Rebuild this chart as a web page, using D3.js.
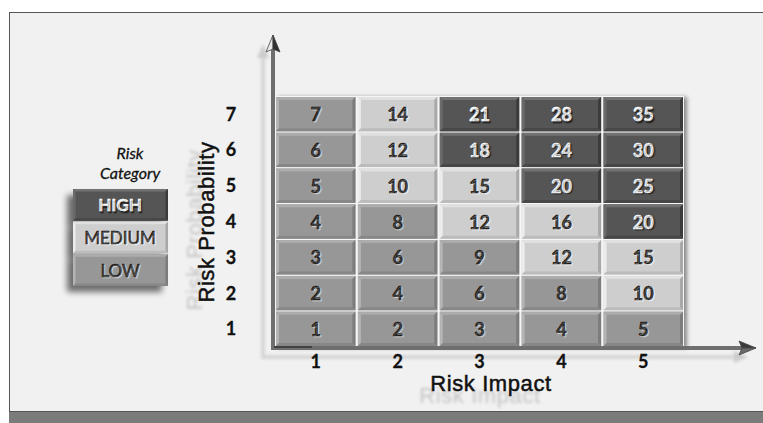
<!DOCTYPE html>
<html>
<head>
<meta charset="utf-8">
<script src="https://cdn.jsdelivr.net/npm/d3@7"></script>
<style>
  html, body { margin: 0; padding: 0; background: #ffffff; }
  svg { display: block; }
</style>
</head>
<body>
<svg id="chart" width="763" height="423"></svg>
<script>
// Axis categories
const impactTicks = ["1", "2", "3", "4", "5"];
const probabilityTicks = ["1", "2", "3", "4", "5", "6", "7"];

// Risk score per probability row (bottom row first), one value per impact column
const scoreRows = [
  [1, 2, 3, 4, 5],
  [2, 4, 6, 8, 10],
  [3, 6, 9, 12, 15],
  [4, 8, 12, 16, 20],
  [5, 10, 15, 20, 25],
  [6, 12, 18, 24, 30],
  [7, 14, 21, 28, 35]
];

// Risk category of each cell, same layout as scoreRows
const categoryRows = [
  ["LOW", "LOW", "LOW", "LOW", "LOW"],
  ["LOW", "LOW", "LOW", "LOW", "MEDIUM"],
  ["LOW", "LOW", "LOW", "MEDIUM", "MEDIUM"],
  ["LOW", "LOW", "MEDIUM", "MEDIUM", "HIGH"],
  ["LOW", "MEDIUM", "MEDIUM", "HIGH", "HIGH"],
  ["LOW", "MEDIUM", "HIGH", "HIGH", "HIGH"],
  ["LOW", "MEDIUM", "HIGH", "HIGH", "HIGH"]
];

const legendItems = ["HIGH", "MEDIUM", "LOW"];
const legendTitle = ["Risk", "Category"];
const xTitle = "Risk Impact";
const yTitle = "Risk Probability";

// Bevel palettes per category
const palette = {
  LOW:    { face: "#979797", top: "#acacac", left: "#b4b4b4", right: "#7b7b7b", bottom: "#878787", text: "#111", glow: "1.2px 1.2px 1px #d6d6d6" },
  MEDIUM: { face: "#cecece", top: "#e0e0e0", left: "#ececec", right: "#a8a8a8", bottom: "#bcbcbc", text: "#111", glow: "1.2px 1.2px 1px #f2f2f2" },
  HIGH:   { face: "#545454", top: "#727272", left: "#6a6a6a", right: "#3b3b3b", bottom: "#474747", text: "#ffffff", glow: "1.4px 1.4px 1px #222222" }
};

const svg = d3.select("#chart");
const defs = svg.append("defs");

function blurFilter(id, sd) {
  defs.append("filter").attr("id", id)
    .attr("x", "-20%").attr("y", "-20%").attr("width", "140%").attr("height", "140%")
    .append("feGaussianBlur").attr("stdDeviation", sd);
}
blurFilter("soft", 1.6);
blurFilter("softText", 1.4);

function dropShadow(id, dx, dy, sd, opacity) {
  const f = defs.append("filter").attr("id", id)
    .attr("x", "-20%").attr("y", "-20%").attr("width", "140%").attr("height", "140%");
  f.append("feGaussianBlur").attr("in", "SourceAlpha").attr("stdDeviation", sd).attr("result", "b");
  f.append("feOffset").attr("in", "b").attr("dx", dx).attr("dy", dy).attr("result", "o");
  f.append("feComponentTransfer").attr("in", "o").attr("result", "s")
    .append("feFuncA").attr("type", "linear").attr("slope", opacity);
  const m = f.append("feMerge");
  m.append("feMergeNode").attr("in", "s");
  m.append("feMergeNode").attr("in", "SourceGraphic");
}
dropShadow("gridShadow", 3, 1, 2.2, 0.45);
dropShadow("legendShadow", -6, 6, 3, 0.55);

// Page frame
svg.append("rect").attr("x", 0).attr("y", 0).attr("width", 763).attr("height", 423).attr("fill", "#ffffff");
svg.append("rect").attr("x", 9.5).attr("y", 12.5).attr("width", 800).attr("height", 399)
  .attr("fill", "#f1f1f1").attr("stroke", "#555").attr("stroke-width", 1);
svg.append("rect").attr("x", 9).attr("y", 412).attr("width", 760).attr("height", 12).attr("fill", "#7b7b7b");

// Scales
const x = d3.scaleBand().domain(impactTicks).range([276, 683]).paddingInner(0.03);
const y = d3.scaleBand().domain(probabilityTicks.slice().reverse()).range([97, 346]).paddingInner(0.04);

// Reflections of the axes
const refl = svg.append("g").attr("filter", "url(#soft)").attr("opacity", 0.9);
refl.append("path")
  .attr("d", `M263,52 L263,357 L742,357`)
  .attr("fill", "none").attr("stroke", "#d2d2d2").attr("stroke-width", 4);
refl.append("path").attr("d", "M263,44 l-6,14 l12,0 z").attr("fill", "#c8c8c8");
refl.append("path").attr("d", "M748,357 l-14,-6 l0,12 z").attr("fill", "#c8c8c8");

// Grid of cells
const cells = [];
probabilityTicks.forEach((p, ri) => {
  impactTicks.forEach((imp, ci) => {
    cells.push({ p, imp, score: scoreRows[ri][ci], cat: categoryRows[ri][ci] });
  });
});

function bevelBox(g, x0, y0, w, h, pal, b) {
  g.append("rect").attr("x", x0).attr("y", y0).attr("width", w).attr("height", h).attr("fill", pal.face);
  const x1 = x0 + w, y1 = y0 + h;
  g.append("path").attr("d", `M${x0},${y0}L${x1},${y0}L${x1 - b},${y0 + b}L${x0 + b},${y0 + b}Z`).attr("fill", pal.top);
  g.append("path").attr("d", `M${x0},${y0}L${x0 + b},${y0 + b}L${x0 + b},${y1 - b}L${x0},${y1}Z`).attr("fill", pal.left);
  g.append("path").attr("d", `M${x1},${y0}L${x1},${y1}L${x1 - b},${y1 - b}L${x1 - b},${y0 + b}Z`).attr("fill", pal.right);
  g.append("path").attr("d", `M${x0},${y1}L${x1},${y1}L${x1 - b},${y1 - b}L${x0 + b},${y1 - b}Z`).attr("fill", pal.bottom);
}

const gridG = svg.append("g").attr("filter", "url(#gridShadow)");
gridG.append("rect")
  .attr("x", x.range()[0] - 1).attr("y", y.range()[0] - 1)
  .attr("width", x.range()[1] - x.range()[0] + 2).attr("height", y.range()[1] - y.range()[0] + 2)
  .attr("fill", "#f6f6f6");

gridG.selectAll("g.cell").data(cells).join("g").attr("class", "cell")
  .each(function (d) {
    bevelBox(d3.select(this), x(d.imp), y(d.p), x.bandwidth(), y.bandwidth(), palette[d.cat], 3);
  });

// Cell labels
const labelFont = "Lato, 'Open Sans', sans-serif";
svg.append("g").selectAll("text").data(cells).join("text")
  .attr("x", d => x(d.imp) + x.bandwidth() / 2)
  .attr("y", d => y(d.p) + y.bandwidth() / 2)
  .attr("text-anchor", "middle").attr("dominant-baseline", "central")
  .attr("font-family", labelFont).attr("font-weight", 700).attr("font-size", 18)
  .attr("fill", d => palette[d.cat].text)
  .attr("stroke", d => palette[d.cat].text).attr("stroke-width", 0.4)
  .style("text-shadow", d => palette[d.cat].glow)
  .text(d => d.score);

// Axis lines with arrowheads
const axisG = svg.append("g");
axisG.append("line").attr("x1", 273).attr("y1", 350).attr("x2", 273).attr("y2", 48)
  .attr("stroke", "#6f6f6f").attr("stroke-width", 4);
axisG.append("line").attr("x1", 271).attr("y1", 348).attr("x2", 742).attr("y2", 348)
  .attr("stroke", "#6f6f6f").attr("stroke-width", 4);
axisG.append("line").attr("x1", 274).attr("y1", 347).attr("x2", 312).attr("y2", 347)
  .attr("stroke", "#333").attr("stroke-width", 1.5);
// vertical arrowhead: light left half, dark right half
axisG.append("path").attr("d", "M273,35 L266,52 L273,49 Z").attr("fill", "#e8e8e8").attr("stroke", "#444").attr("stroke-width", 0.8);
axisG.append("path").attr("d", "M273,35 L280,52 L273,49 Z").attr("fill", "#2e2e2e").attr("stroke", "#444").attr("stroke-width", 0.8);
// horizontal arrowhead: dark top half, grey lower half
axisG.append("path").attr("d", "M756,348 L739,341 L742,348 Z").attr("fill", "#3a3a3a").attr("stroke", "#444").attr("stroke-width", 0.8);
axisG.append("path").attr("d", "M756,348 L739,355 L742,348 Z").attr("fill", "#6a6a6a").attr("stroke", "#444").attr("stroke-width", 0.8);

// Tick labels through d3 axes
const tickFont = "Lato, 'Open Sans', sans-serif";
const yAxis = svg.append("g").attr("transform", "translate(231,0)")
  .call(d3.axisLeft(y).tickSize(0).tickPadding(0));
yAxis.select(".domain").remove();
yAxis.selectAll("text")
  .attr("x", 0).attr("text-anchor", "middle").attr("dy", "0.36em")
  .attr("font-family", tickFont).attr("font-weight", 700).attr("font-size", 18)
  .attr("fill", "#111").attr("stroke", "#111").attr("stroke-width", 0.3);

const xAxis = svg.append("g").attr("transform", "translate(0,355)")
  .call(d3.axisBottom(x).tickSize(0).tickPadding(0));
xAxis.select(".domain").remove();
xAxis.selectAll("text")
  .attr("dy", "0.72em")
  .attr("font-family", tickFont).attr("font-weight", 700).attr("font-size", 18)
  .attr("fill", "#111").attr("stroke", "#111").attr("stroke-width", 0.3);

// Axis titles, each above a blurred, offset ghost copy
const titleFont = "'Liberation Sans', Arial, sans-serif";
function axisTitle(text, tx, ty, rot, dx, dy) {
  const g = svg.append("g");
  g.append("text").attr("transform", `translate(${tx + dx},${ty + dy}) rotate(${rot})`)
    .attr("text-anchor", "middle").attr("font-family", titleFont).attr("font-size", 22)
    .attr("letter-spacing", 0.6).attr("fill", "#c4c4c4").attr("filter", "url(#softText)")
    .text(text);
  g.append("text").attr("transform", `translate(${tx},${ty}) rotate(${rot})`)
    .attr("text-anchor", "middle").attr("font-family", titleFont).attr("font-size", 22)
    .attr("letter-spacing", 0.6).attr("fill", "#111").attr("stroke", "#111").attr("stroke-width", 0.5)
    .text(text);
}
axisTitle(yTitle, 214, 222, -90, -12, 8);
axisTitle(xTitle, 491, 391, 0, -11, 12);

// Legend
const legendFont = "Lato, 'Open Sans', sans-serif";
svg.append("g").selectAll("text").data(legendTitle).join("text")
  .attr("x", 130).attr("y", (d, i) => 159 + i * 20)
  .attr("text-anchor", "middle").attr("font-family", legendFont).attr("font-style", "italic")
  .attr("font-size", 16).attr("fill", "#111").attr("stroke", "#111").attr("stroke-width", 0.3)
  .text(d => d);

const ly = d3.scaleBand().domain(legendItems).range([189, 286]).paddingInner(0.03);
const legendG = svg.append("g").attr("filter", "url(#legendShadow)");
legendItems.forEach(k => {
  bevelBox(legendG, 73, ly(k), 95, ly.bandwidth(), palette[k], 2.5);
});
svg.append("g").selectAll("text").data(legendItems).join("text")
  .attr("x", 120).attr("y", d => ly(d) + ly.bandwidth() / 2)
  .attr("text-anchor", "middle").attr("dominant-baseline", "central")
  .attr("font-family", legendFont).attr("font-weight", d => d === "HIGH" ? 700 : 400).attr("font-size", 17)
  .attr("fill", d => palette[d].text)
  .attr("stroke", d => palette[d].text).attr("stroke-width", 0.45)
  .style("text-shadow", d => palette[d].glow)
  .text(d => d);
</script>
</body>
</html>
